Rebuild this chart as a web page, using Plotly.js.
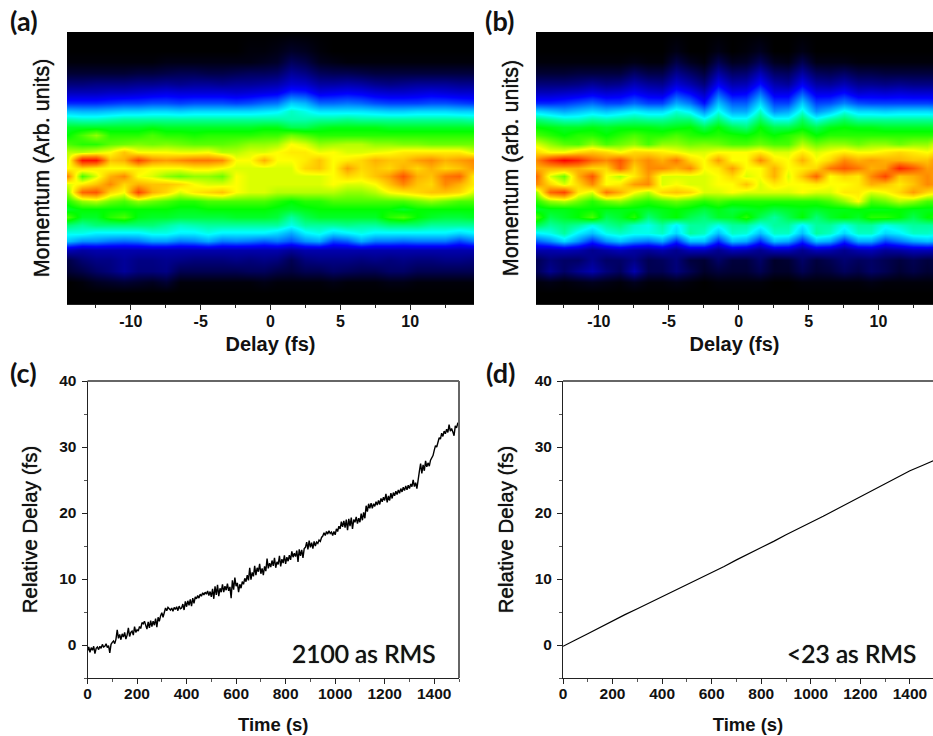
<!DOCTYPE html>
<html><head><meta charset="utf-8">
<script src="https://cdn.plot.ly/plotly-3.0.1.min.js"></script>
<style>html,body{margin:0;padding:0;background:#fff}#g{width:933px;height:736px}</style>
</head><body><div id="g"></div>
<script>
// Delay axis samples (fs) and momentum samples (arb. units), top row first
const delay = [-14.5,-13.5,-12.5,-11.5,-10.5,-9.5,-8.5,-7.5,-6.5,-5.5,-4.5,-3.5,-2.5,-1.5,-0.5,0.5,1.5,2.5,3.5,4.5,5.5,6.5,7.5,8.5,9.5,10.5,11.5,12.5,13.5,14.5];
const momentum = [100,93,89,85,81,78,74,71,68,65,62,59,56,53,50,47,44,41,38,35,32,29,26,23,20,16,12,8,4,0];

const mapA = [
[0,0,0,0,0,0,0,0,0,0,0,0,0,0,0,0,0,0,0,0,0,0,0,0,0,0,0,0,0,0],
[0,0,0,0,0,0,0,0,0,0,0,0,0,1,1,2,4,3,1,0,0,0,0,0,0,0,0,0,0,0],
[1,1,1,1,1,1,1,2,2,2,2,2,2,2,3,4,9,7,3,2,1,1,1,1,1,1,1,1,1,1],
[5,5,5,5,5,6,6,7,8,8,7,7,8,9,9,10,15,13,9,8,8,7,6,6,6,6,6,6,6,6],
[12,12,13,13,13,14,14,15,14,15,15,14,15,15,16,17,21,20,16,16,17,16,14,13,14,15,15,15,14,14],
[18,18,18,19,19,20,21,22,21,21,21,21,20,21,22,23,28,27,22,23,24,23,21,20,20,21,22,21,20,20],
[28,28,28,29,30,30,31,31,30,31,31,31,30,31,33,34,41,39,33,33,34,33,31,30,30,30,31,31,30,29],
[40,39,39,40,41,41,42,42,41,42,42,42,42,42,43,44,48,46,43,43,43,43,42,41,41,42,42,42,41,41],
[49,48,48,49,50,50,50,50,50,50,50,50,50,50,50,50,49,49,50,50,51,50,50,50,50,50,50,50,50,49],
[56,56,56,56,56,56,57,56,56,56,56,56,56,56,57,57,54,54,56,57,57,57,57,56,56,56,56,56,56,56],
[58,62,66,60,60,60,62,60,60,59,60,60,60,60,61,61,64,62,60,60,60,60,60,60,60,60,60,60,60,60],
[62,60,60,63,64,65,64,65,64,63,63,63,64,66,66,67,72,70,66,67,68,68,66,66,65,65,64,64,64,64],
[68,68,70,72,78,72,72,72,71,71,72,68,68,70,70,72,74,74,71,72,70,70,71,72,74,74,74,74,74,70],
[70,98,98,78,80,92,84,82,84,86,86,84,72,72,80,72,72,74,78,72,74,76,80,78,78,82,84,80,82,84],
[72,76,74,72,72,74,72,72,72,74,74,72,70,70,70,70,70,76,78,72,82,76,78,76,80,76,80,76,78,82],
[84,62,70,80,84,72,70,66,64,66,66,64,72,70,70,70,70,70,70,72,76,74,78,82,90,80,78,86,88,74],
[70,74,78,84,76,80,78,78,76,72,70,70,72,70,70,70,70,70,70,72,70,70,72,78,84,78,76,84,80,74],
[66,88,90,76,72,92,80,76,70,74,76,78,72,70,70,68,68,68,68,68,66,66,68,72,74,76,78,78,76,70],
[60,66,68,64,62,66,64,62,60,60,62,62,62,62,62,60,58,60,60,62,62,62,62,62,62,64,66,64,62,62],
[56,58,58,58,58,58,58,58,57,57,58,58,58,58,58,57,56,57,58,58,58,58,58,58,56,58,58,58,58,58],
[62,56,56,60,62,57,56,56,55,55,55,55,56,56,56,55,50,54,56,56,56,56,56,60,62,58,56,55,55,56],
[52,50,52,52,52,52,52,50,48,49,50,50,50,50,50,50,46,50,50,50,51,50,50,52,52,52,50,50,50,50],
[46,46,44,44,44,44,46,46,44,44,46,44,44,44,44,42,38,44,46,42,44,46,44,44,44,44,44,44,42,44],
[40,36,36,34,33,34,37,37,34,35,38,34,35,34,32,34,31,36,38,30,32,38,34,34,33,34,34,34,30,34],
[18,16,17,17,17,17,17,17,17,17,17,17,17,17,17,17,15,17,17,17,17,17,17,17,17,17,17,17,17,17],
[7,11,13,13,15,13,13,14,13,12,12,12,13,12,13,12,8,12,13,13,13,12,13,12,13,12,12,13,13,12],
[5,7,10,12,15,12,12,13,8,8,8,8,8,9,9,7,6,8,8,10,9,8,8,10,10,8,8,8,8,8],
[0,1,3,4,5,4,3,5,1,1,1,1,1,1,2,1,1,1,1,2,1,1,1,2,2,1,1,1,1,1],
[0,0,0,0,0,0,0,0,0,0,0,0,0,0,0,0,0,0,0,0,0,0,0,0,0,0,0,0,0,0],
[0,0,0,0,0,0,0,0,0,0,0,0,0,0,0,0,0,0,0,0,0,0,0,0,0,0,0,0,0,0]
];

const mapB = [
[0,0,0,0,0,0,0,0,0,0,0,0,0,0,0,0,0,0,0,0,0,0,0,0,0,0,0,0,0,0],
[0,0,0,0,0,0,0,0,0,0,2,0,0,2,0,1,3,0,0,2,0,0,0,0,0,0,0,0,0,0],
[1,1,1,1,1,1,1,2,1,1,7,3,1,8,3,4,9,3,2,8,2,2,2,1,1,1,1,1,1,1],
[5,5,5,6,6,6,6,10,7,7,14,10,6,16,10,11,18,10,9,16,9,8,10,7,7,6,6,6,6,6],
[12,12,12,13,15,13,14,18,15,14,21,17,12,24,17,18,26,17,15,24,16,15,18,14,14,13,14,13,13,13],
[18,18,19,20,22,20,21,24,21,20,28,24,18,31,23,24,33,22,22,31,22,22,25,20,21,20,21,20,20,20],
[28,28,29,31,33,30,30,33,30,30,38,34,26,40,32,32,42,30,30,41,30,31,35,31,30,30,30,30,30,29],
[42,40,38,40,42,40,42,44,42,42,47,44,36,46,38,38,48,36,38,47,36,40,46,42,42,41,42,42,42,41],
[52,50,48,48,50,49,50,51,50,50,52,52,46,52,46,46,53,46,46,53,46,50,53,50,50,50,50,50,50,50],
[58,57,56,56,57,56,57,57,57,56,57,58,54,58,54,52,58,54,54,57,54,57,58,57,57,56,56,56,56,56],
[62,60,58,60,60,58,60,62,60,60,62,60,59,60,59,58,60,58,60,62,58,60,60,60,60,60,60,60,60,60],
[70,66,63,62,66,62,64,66,62,66,66,64,65,64,62,62,64,62,62,68,64,66,66,64,66,66,64,66,66,72],
[76,72,72,76,78,76,72,76,76,74,72,70,70,72,72,72,74,70,70,74,70,72,74,72,72,74,76,74,72,76],
[84,94,100,96,88,84,90,80,84,80,86,76,72,82,72,72,84,74,72,80,72,76,84,80,82,80,80,78,78,86],
[80,80,80,80,76,76,88,76,84,84,80,84,72,74,82,72,72,80,72,74,76,86,90,86,80,82,96,90,82,84],
[88,70,64,80,90,72,68,74,82,70,70,70,70,72,76,70,72,80,70,78,88,72,76,74,84,92,78,80,84,80],
[84,76,70,76,84,72,74,82,84,70,72,70,70,72,72,78,70,74,72,72,74,72,72,74,80,78,74,78,84,82],
[66,88,92,74,70,86,80,72,68,76,78,76,70,70,72,70,70,70,70,72,70,70,74,74,70,72,76,82,76,72],
[60,66,68,64,60,64,66,62,60,62,64,62,60,62,60,60,60,60,60,60,60,62,66,72,62,64,68,66,62,62],
[56,57,57,58,58,57,57,57,56,57,58,57,55,57,55,56,57,55,56,57,56,57,57,58,57,57,58,57,57,57],
[62,54,56,58,62,54,56,60,52,56,58,54,52,56,56,60,54,50,54,58,52,56,58,56,60,60,58,54,58,60],
[54,50,52,50,46,50,52,48,46,50,44,50,50,46,50,50,46,50,50,44,50,50,46,50,50,46,48,50,50,50],
[44,46,50,44,40,46,48,46,46,48,42,50,48,40,48,47,40,48,48,40,50,48,42,48,48,42,44,48,48,46],
[32,36,42,36,28,36,40,36,34,38,28,40,40,28,40,38,28,40,38,28,40,38,28,38,38,30,34,38,40,38],
[17,17,18,17,14,16,18,16,15,17,14,18,18,14,18,17,14,18,18,14,18,17,14,17,18,15,16,18,18,17],
[8,12,10,10,14,10,10,13,8,9,12,6,5,10,6,6,10,4,5,10,6,8,11,9,10,8,6,8,6,7],
[8,14,10,14,17,12,9,17,8,8,12,8,4,6,5,5,8,4,4,8,5,6,9,7,10,8,5,7,5,6],
[1,2,1,2,3,2,1,3,1,1,2,1,0,1,1,1,1,0,0,1,1,1,1,1,2,1,1,1,1,1],
[0,0,0,0,0,0,0,0,0,0,0,0,0,0,0,0,0,0,0,0,0,0,0,0,0,0,0,0,0,0],
[0,0,0,0,0,0,0,0,0,0,0,0,0,0,0,0,0,0,0,0,0,0,0,0,0,0,0,0,0,0]
];

// Relative delay, one reading every 5 s
const delayC = [
-0.9,-0.3,-1.1,-0.4,-0.8,-0.2,-1.3,-0.5,-0.3,-0.7,-0.2,-0.5,0.1,-0.3,-0.2,0.2,-0.4,-0.1,-1.2,0.1,
0.4,0.6,0.2,0.9,2.3,1.0,1.6,0.8,1.7,1.2,1.9,0.9,1.5,2.6,1.3,1.9,2.1,1.5,2.8,1.9,
2.3,2.1,2.8,2.5,3.4,3.2,3.6,3.0,2.4,3.5,2.6,3.7,2.8,3.6,3.0,4.0,2.7,4.2,3.6,4.4,
4.9,4.2,5.0,5.6,5.2,5.7,5.5,5.3,5.6,5.1,5.7,5.4,5.8,5.2,5.9,5.5,5.6,6.2,5.3,6.6,
5.8,6.7,6.0,6.9,5.9,7.1,6.3,7.3,7.0,7.5,7.1,7.7,7.4,7.9,7.6,8.0,7.7,8.2,7.5,8.1,
7.3,8.5,7.0,8.9,7.6,9.1,7.4,8.6,8.0,9.2,8.0,8.9,8.3,9.3,8.2,8.8,7.1,9.8,8.4,10.2,
8.9,9.4,8.0,9.2,8.6,9.6,9.2,10.1,9.6,10.6,9.8,11.7,9.9,11.0,10.4,12.0,10.6,11.7,11.1,12.3,
10.8,11.6,10.6,11.9,11.2,13.1,11.6,12.4,11.8,12.8,12.0,13.2,11.7,12.6,12.2,13.5,11.9,13.0,12.4,13.6,
12.3,13.3,12.7,13.6,12.9,14.2,13.3,13.9,13.4,14.3,12.6,14.5,13.5,14.4,13.2,14.6,14.8,15.6,14.5,15.8,
14.8,15.5,14.6,15.7,15.0,15.6,15.4,15.9,15.7,16.3,16.5,17.0,16.6,17.2,16.8,17.3,16.9,17.1,16.6,17.2,
16.7,17.6,17.2,18.0,17.6,18.7,17.9,18.8,17.8,19.0,17.4,19.1,18.0,19.3,17.6,19.0,18.6,19.4,18.4,19.2,
18.6,19.9,18.9,20.1,19.2,21.1,20.2,21.4,20.7,21.5,20.7,21.4,21.0,21.7,21.2,21.9,21.3,22.2,21.7,22.4,
21.9,22.9,21.6,22.6,21.9,23.0,22.2,23.1,22.6,23.3,22.8,23.5,23.0,23.7,23.2,23.9,23.4,24.1,23.5,24.2,
23.7,24.4,24.0,25.0,24.0,24.6,23.7,25.5,26.3,27.5,26.0,27.3,26.4,27.9,27.0,27.6,27.1,28.0,28.4,28.7,
29.5,30.2,30.0,31.0,31.4,31.2,32.1,31.6,32.4,32.0,32.7,32.2,33.4,32.4,32.8,32.3,31.7,33.2,32.9,33.6,
33.7];
const timeC = delayC.map((_, i) => i * 5);

const timeD = [0,20,50,100,150,200,250,300,350,400,450,500,550,600,650,700,750,800,850,900,950,1000,1050,1100,1150,1200,1250,1300,1350,1400,1450,1500];
const delayD = [-0.2,0.15,0.75,1.7,2.7,3.65,4.6,5.5,6.4,7.3,8.2,9.1,10.0,11.0,11.9,12.9,13.8,14.8,15.7,16.7,17.6,18.5,19.5,20.5,21.5,22.5,23.5,24.5,25.5,26.4,27.2,28.0];

const jetBlack = [[0,'#000000'],[0.12,'#00007a'],[0.25,'#0000ff'],[0.36,'#0090ff'],[0.45,'#00ffff'],[0.58,'#00ff00'],[0.72,'#ffff00'],[0.85,'#ff8000'],[1,'#ff0000']];
const W = 933, H = 736;
const sans = 'Liberation Sans, Arial, sans-serif';
const calibri = 'Lato, sans-serif';
const heavy = '0 0 0.8px #111';

function heat(z, xa, ya) {
  return {type:'heatmap', x:delay, y:momentum.slice().reverse(), z:z.slice().reverse(),
    xaxis:xa, yaxis:ya, colorscale:jetBlack, zmin:0, zmax:100, zsmooth:'best', showscale:false, hoverinfo:'skip'};
}
function line(x, y, xa, ya, w) {
  return {type:'scatter', mode:'lines', x:x, y:y, xaxis:xa, yaxis:ya, line:{color:'#000', width:w}, hoverinfo:'skip'};
}
const heatX = (l, r, range, anchor) => ({
  anchor:anchor, domain:[l/W, r/W], range:range, tickmode:'array', tickvals:[-10,-5,0,5,10], ticktext:['-10','-5','0','5','10'],
  ticks:'outside', ticklen:5, tickcolor:'#222', tickwidth:1, ticklabelstandoff:-2,
  minor:{tickmode:'array', tickvals:[-12.5,-7.5,-2.5,2.5,7.5,12.5], ticks:'outside', ticklen:3, tickcolor:'#222', tickwidth:1},
  tickfont:{family:sans, size:16, weight:'bold', color:'#111'}, showgrid:false, zeroline:false,
  showline:true, linecolor:'#222', linewidth:1,
  title:{text:'Delay (fs)', font:{family:sans, size:20, weight:'bold', color:'#111'}, standoff:7}
});
const heatY = (text, anchor) => ({
  anchor:anchor, domain:[(H-304)/H, (H-32)/H], range:[0,100], showticklabels:false, ticks:'', showgrid:false, zeroline:false, showline:false,
  title:{text:text, font:{family:sans, size:21.5, color:'#111', shadow:heavy}, standoff:10}
});
const lineX = (l, r, range, anchor) => ({
  anchor:anchor, domain:[l/W, r/W], range:range, tickmode:'array', tickvals:[0,200,400,600,800,1000,1200,1400],
  ticks:'outside', ticklen:5, tickcolor:'#222', tickwidth:1, ticklabelstandoff:-4,
  minor:{dtick:100, ticks:'outside', ticklen:3, tickcolor:'#555', tickwidth:1},
  tickfont:{family:sans, size:15.5, weight:'bold', color:'#111'}, showgrid:false, zeroline:false,
  showline:true, linecolor:'#222', linewidth:1,
  title:{text:'Time (s)', font:{family:sans, size:18.5, weight:'bold', color:'#111'}, standoff:17}
});
const lineY = (anchor) => ({
  anchor:anchor, domain:[(H-678)/H, (H-381)/H], range:[-5,40], tickmode:'array', tickvals:[0,10,20,30,40],
  ticks:'outside', ticklen:5, tickcolor:'#222', tickwidth:1, ticklabelstandoff:2,
  minor:{tickvals:[-5,5,15,25,35], tickmode:'array', ticks:'outside', ticklen:3, tickcolor:'#555', tickwidth:1},
  tickfont:{family:sans, size:15.5, weight:'bold', color:'#111'}, showgrid:false, zeroline:false,
  showline:true, linecolor:'#222', linewidth:1,
  title:{text:'Relative Delay (fs)', font:{family:sans, size:20.5, color:'#111', shadow:heavy}, standoff:15}
});
const panel = (t, px, py) => ({text:t, xref:'paper', yref:'paper', x:px/W, y:1-py/H, xanchor:'left', yanchor:'middle', showarrow:false,
  font:{family:calibri, size:27, weight:'bold', color:'#111'}});
const rms = (t, px) => ({text:t, xref:'paper', yref:'paper', x:px/W, y:1-653/H, xanchor:'right', yanchor:'middle', showarrow:false,
  font:{family:calibri, size:24.5, color:'#111', shadow:heavy}});
const spine = (xd, yd, x0, y0, x1, y1) => ({type:'line', xref:xd, yref:yd, x0, y0, x1, y1, line:{color:'#666', width:2}});

Plotly.newPlot('g', [
  heat(mapA,'x','y'), heat(mapB,'x2','y2'),
  line(timeC, delayC,'x3','y3',1.4), line(timeD, delayD,'x4','y4',1.2)
], {
  width:W, height:H, margin:{l:0,r:0,t:0,b:0}, showlegend:false, paper_bgcolor:'#fff', plot_bgcolor:'#fff',
  xaxis:heatX(67,474,[-14.57,14.57],'y'), yaxis:heatY('Momentum (Arb. units)','x'),
  xaxis2:heatX(536,933,[-14.5,13.9],'y2'), yaxis2:heatY('Momentum (arb. units)','x2'),
  xaxis3:lineX(87.5,459,[0,1500],'y3'), yaxis3:lineY('x3'),
  xaxis4:lineX(563,933,[0,1493],'y4'), yaxis4:lineY('x4'),
  annotations:[panel('(a)',8,20), panel('(b)',483,20), panel('(c)',8,373), panel('(d)',484,373),
    rms('2100 as RMS',438), rms('&lt;23 as RMS',918)],
  shapes:[
    spine('x3 domain','y3 domain',0,1,1,1), spine('x3 domain','y3 domain',1,0,1,1),
    spine('x4 domain','y4 domain',0,1,1,1)
  ]
}, {displayModeBar:false, staticPlot:true});
</script></body></html>
